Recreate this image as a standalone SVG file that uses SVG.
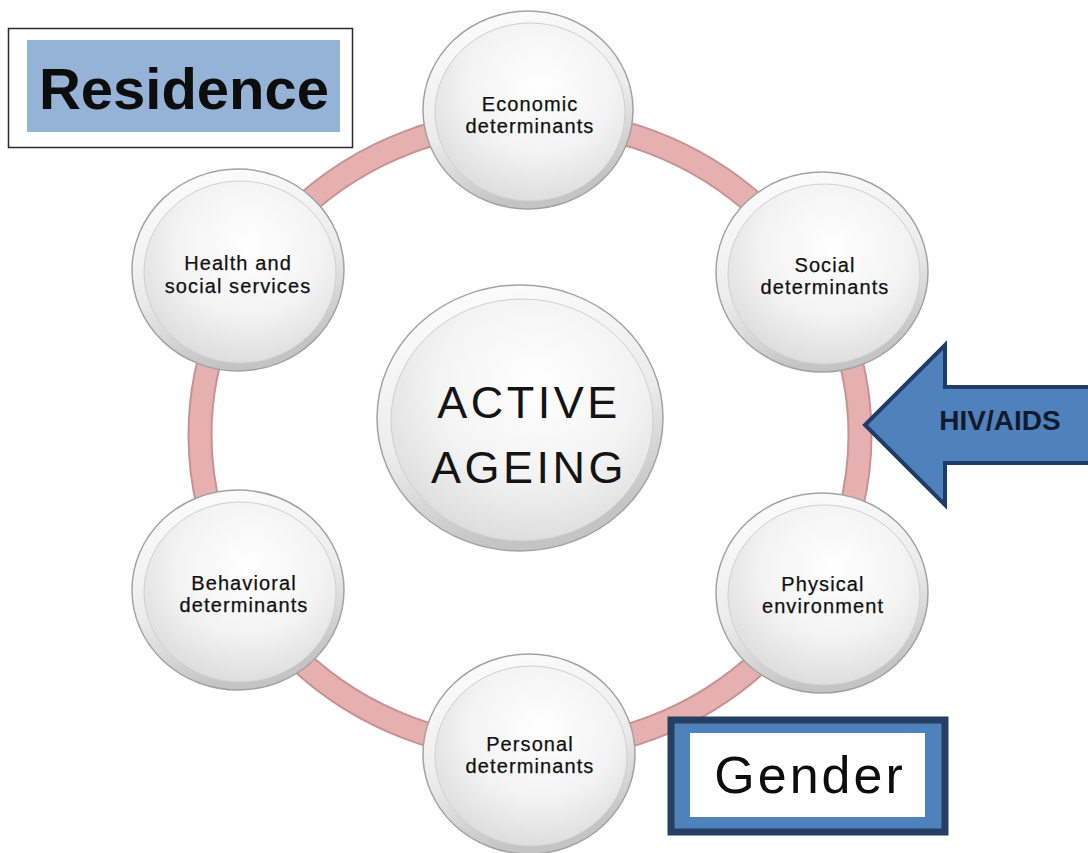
<svg xmlns="http://www.w3.org/2000/svg" width="1088" height="853" viewBox="0 0 1088 853">
  <defs>
    <linearGradient id="rim" x1="0" y1="0" x2="0.3" y2="1">
      <stop offset="0" stop-color="#ffffff"/>
      <stop offset="0.6" stop-color="#ececec"/>
      <stop offset="1" stop-color="#c4c4c4"/>
    </linearGradient>
    <radialGradient id="face" cx="0.55" cy="0.35" r="0.7">
      <stop offset="0" stop-color="#ffffff"/>
      <stop offset="0.55" stop-color="#f3f3f3"/>
      <stop offset="1" stop-color="#dadada"/>
    </radialGradient>
    <style>
      .outer { fill: url(#rim); stroke: #a3a3a3; stroke-width: 1.5; }
      .inner { fill: url(#face); stroke: #d0d0d0; stroke-width: 1; }
      .lbl { font-family: "Liberation Sans", Arial, sans-serif; font-size: 20px; letter-spacing: 1.1px; fill: #111111; stroke: #111111; stroke-width: 0.25; text-anchor: middle; }
      .big { font-family: "Liberation Sans", Arial, sans-serif; font-size: 45px; letter-spacing: 3.5px; fill: #141414; text-anchor: middle; }
      .ring-edge { fill: none; stroke: #c79292; stroke-width: 25; }
      .ring { fill: none; stroke: #e7b0b0; stroke-width: 21; }
    </style>
  </defs>
  <rect x="0" y="0" width="1088" height="853" fill="#ffffff"/>

  <g id="connectors">
    <ellipse class="ring-edge" cx="530" cy="435" rx="330" ry="315"/>
    <ellipse class="ring" cx="530" cy="435" rx="330" ry="315"/>
  </g>

  <g id="node-center">
    <ellipse class="outer" cx="520" cy="418" rx="143" ry="133"/>
    <ellipse class="inner" cx="522" cy="420" rx="131" ry="121"/>
    <text class="big" x="529" y="418">ACTIVE</text>
    <text class="big" x="529" y="483">AGEING</text>
  </g>

  <g id="node-economic">
    <ellipse class="outer" cx="528" cy="110" rx="105" ry="99"/>
    <ellipse class="inner" cx="530" cy="112" rx="95" ry="89"/>
    <text class="lbl" x="530" y="111">Economic</text>
    <text class="lbl" x="530" y="133">determinants</text>
  </g>

  <g id="node-social">
    <ellipse class="outer" cx="822" cy="272" rx="106" ry="100"/>
    <ellipse class="inner" cx="824" cy="274" rx="96" ry="90"/>
    <text class="lbl" x="825" y="272">Social</text>
    <text class="lbl" x="825" y="294">determinants</text>
  </g>

  <g id="node-physical">
    <ellipse class="outer" cx="822" cy="593" rx="106" ry="100"/>
    <ellipse class="inner" cx="824" cy="595" rx="96" ry="90"/>
    <text class="lbl" x="823" y="591">Physical</text>
    <text class="lbl" x="823" y="613">environment</text>
  </g>

  <g id="node-personal">
    <ellipse class="outer" cx="529" cy="754" rx="106" ry="100"/>
    <ellipse class="inner" cx="531" cy="756" rx="96" ry="90"/>
    <text class="lbl" x="530" y="751">Personal</text>
    <text class="lbl" x="530" y="773">determinants</text>
  </g>

  <g id="node-behavioral">
    <ellipse class="outer" cx="238" cy="590" rx="106" ry="100"/>
    <ellipse class="inner" cx="240" cy="592" rx="96" ry="90"/>
    <text class="lbl" x="244" y="590">Behavioral</text>
    <text class="lbl" x="244" y="612">determinants</text>
  </g>

  <g id="node-health">
    <ellipse class="outer" cx="238" cy="270" rx="106" ry="101"/>
    <ellipse class="inner" cx="240" cy="272" rx="96" ry="91"/>
    <text class="lbl" x="238" y="270">Health and</text>
    <text class="lbl" x="238" y="293">social services</text>
  </g>

  <g id="node-residence">
    <rect x="8.5" y="28.5" width="344" height="119" fill="#ffffff" stroke="#2b2b2b" stroke-width="1.5"/>
    <rect x="27" y="40" width="313" height="92" fill="#95b3d7"/>
    <text x="184" y="109" font-family="Liberation Sans, Arial, sans-serif" font-weight="bold" font-size="58" fill="#0d0d0d" text-anchor="middle">Residence</text>
  </g>

  <g id="node-hiv">
    <path d="M865 425 L945 345 L945 387 L1096 387 L1096 463 L945 463 L945 505 Z" fill="#4f81bd" stroke="#1f3c66" stroke-width="4" stroke-linejoin="miter"/>
    <text x="1000" y="430" font-family="Liberation Sans, Arial, sans-serif" font-weight="bold" font-size="28" fill="#141a2e" text-anchor="middle">HIV/AIDS</text>
  </g>

  <g id="node-gender">
    <rect x="671" y="720" width="274" height="112" fill="#4f81bd" stroke="#243f60" stroke-width="7"/>
    <rect x="690" y="733" width="235" height="84" fill="#ffffff"/>
    <text x="810" y="793" font-family="Liberation Sans, Arial, sans-serif" font-size="52" letter-spacing="3" fill="#0d0d0d" text-anchor="middle">Gender</text>
  </g>
</svg>
